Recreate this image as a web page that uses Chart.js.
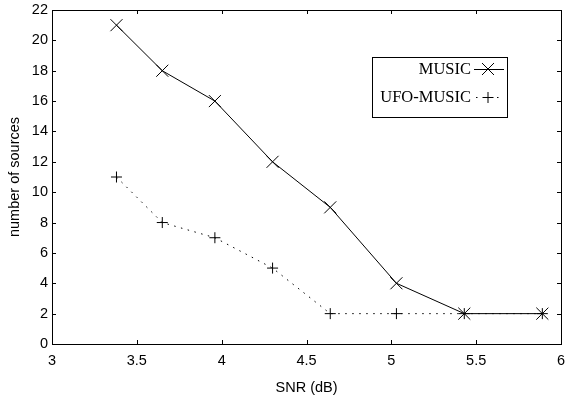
<!DOCTYPE html>
<html>
<head>
<meta charset="utf-8">
<script src="https://cdn.jsdelivr.net/npm/chart.js@4.4.1/dist/chart.umd.min.js"></script>
<style>
  html, body { margin: 0; padding: 0; background: #fff; }
  #wrap { width: 567px; height: 397px; }
</style>
</head>
<body>
<div id="wrap"><canvas id="snrChart" width="567" height="397"></canvas></div>
<script>
let snrValues = [3.38, 3.65, 3.96, 4.30, 4.64, 5.03, 5.43, 5.89];
let musicValues = [21, 18, 16, 12, 9, 4, 2, 2];
let ufoValues = [11, 8, 7, 5, 2, 2, 2, 2];
let legendValues = ["MUSIC", "UFO-MUSIC"];

const toPoints = (vals) => vals.map((v, i) => ({ x: snrValues[i], y: v }));

// frame, inward ticks and the legend box
const framePlugin = {
    id: "frame",
    afterDraw(chart) {
        const ctx = chart.ctx;
        const a = chart.chartArea;
        const xs = chart.scales.x;
        const ys = chart.scales.y;
        ctx.save();
        ctx.strokeStyle = "#000";
        ctx.lineWidth = 1;
        ctx.strokeRect(Math.round(a.left) + 0.5, Math.round(a.top) + 0.5,
            Math.round(a.right - a.left), Math.round(a.bottom - a.top));
        ctx.beginPath();
        xs.ticks.forEach(t => {
            const px = Math.round(xs.getPixelForValue(t.value)) + 0.5;
            ctx.moveTo(px, a.bottom); ctx.lineTo(px, a.bottom - 4);
            ctx.moveTo(px, a.top); ctx.lineTo(px, a.top + 4);
        });
        ys.ticks.forEach(t => {
            const py = Math.round(ys.getPixelForValue(t.value)) + 0.5;
            ctx.moveTo(a.left, py); ctx.lineTo(a.left + 4, py);
            ctx.moveTo(a.right, py); ctx.lineTo(a.right - 4, py);
        });
        ctx.stroke();

        // legend
        const bx = 372.5, by = 57.5, bw = 135, bh = 60;
        ctx.fillStyle = "#fff";
        ctx.fillRect(bx, by, bw, bh);
        ctx.strokeRect(bx, by, bw, bh);
        ctx.font = "16.5px 'Liberation Serif', serif";
        ctx.fillStyle = "#000";
        ctx.textAlign = "right";
        ctx.textBaseline = "middle";
        const rows = [69, 97];
        legendValues.forEach((label, i) => {
            ctx.fillText(label, 471, rows[i] + 1);
        });
        // MUSIC sample
        ctx.beginPath();
        ctx.moveTo(474, rows[0] + 0.5); ctx.lineTo(504, rows[0] + 0.5);
        ctx.moveTo(482, rows[0] - 6); ctx.lineTo(494, rows[0] + 6);
        ctx.moveTo(482, rows[0] + 6); ctx.lineTo(494, rows[0] - 6);
        ctx.stroke();
        // UFO-MUSIC sample
        ctx.beginPath();
        ctx.setLineDash([1.5, 5.5]);
        ctx.moveTo(476, rows[1] + 0.5); ctx.lineTo(504, rows[1] + 0.5);
        ctx.stroke();
        ctx.setLineDash([]);
        ctx.beginPath();
        ctx.moveTo(482.5, rows[1] + 0.5); ctx.lineTo(493.5, rows[1] + 0.5);
        ctx.moveTo(488, rows[1] - 5); ctx.lineTo(488, rows[1] + 6);
        ctx.stroke();
        ctx.restore();
    }
};

const tickFont = { family: "'Liberation Sans', Arial, sans-serif", size: 14.5 };

new Chart(document.getElementById("snrChart"), {
    type: "line",
    data: {
        datasets: [{
            label: legendValues[0],
            data: toPoints(musicValues),
            borderColor: "#000",
            borderWidth: 1,
            pointStyle: "crossRot",
            pointRadius: 8.5,
            pointBorderColor: "#000",
            pointBorderWidth: 1,
            fill: false,
            tension: 0
        }, {
            label: legendValues[1],
            data: toPoints(ufoValues),
            borderColor: "#000",
            borderWidth: 1,
            borderDash: [1.5, 5.5],
            pointStyle: "cross",
            pointRadius: 5.5,
            pointBorderColor: "#000",
            pointBorderWidth: 1,
            fill: false,
            tension: 0
        }]
    },
    options: {
        responsive: false,
        animation: false,
        layout: { autoPadding: false, padding: { top: 10, right: 6, left: 0, bottom: 0 } },
        plugins: {
            legend: { display: false },
            tooltip: { enabled: false }
        },
        scales: {
            x: {
                type: "linear",
                min: 3,
                max: 6,
                grid: { display: false, drawTicks: false },
                border: { display: false },
                ticks: {
                    stepSize: 0.5, color: "#000", font: tickFont, padding: 8, maxRotation: 0,
                    callback: (v) => String(Math.round(v * 10) / 10)
                },
                title: { display: true, text: "SNR (dB)", color: "#000", font: tickFont, padding: { top: 0, bottom: 0 } },
                afterFit(scale) {
                    scale.height = 53;
                    scale.paddingLeft = 0;
                    scale.paddingRight = 0;
                }
            },
            y: {
                min: 0,
                max: 22,
                grid: { display: false, drawTicks: false },
                border: { display: false },
                ticks: { stepSize: 2, color: "#000", font: tickFont, padding: 4 },
                title: { display: true, text: "number of sources", color: "#000", font: tickFont, padding: { top: 6, bottom: 0 } },
                afterFit(scale) {
                    scale.width = 52;
                    scale.paddingTop = 0;
                    scale.paddingBottom = 0;
                }
            }
        }
    },
    plugins: [framePlugin]
});
</script>
</body>
</html>
